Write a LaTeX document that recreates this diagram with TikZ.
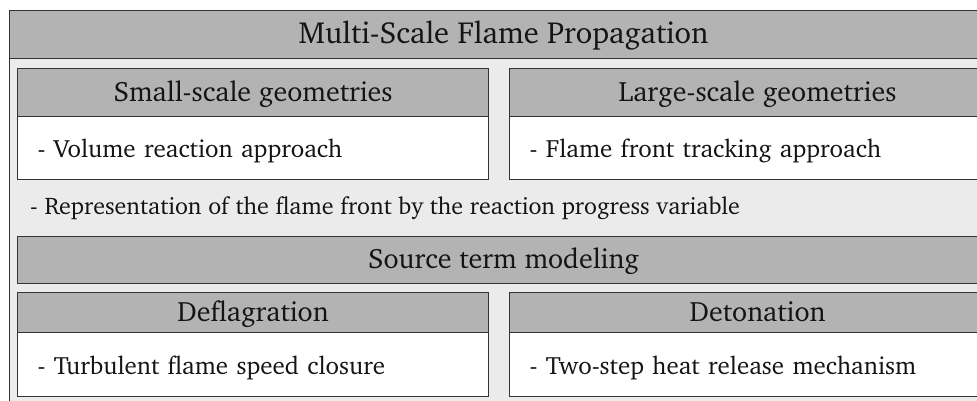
\documentclass[tikz,border=0pt]{standalone}
\usepackage[T1]{fontenc}
\usepackage{charter}
\definecolor{hdrgray}{HTML}{B3B3B3}
\definecolor{panelgray}{HTML}{EBEBEB}
\definecolor{edge}{HTML}{333333}
\definecolor{ink}{HTML}{141414}
\begin{document}
\begin{tikzpicture}[x=1pt,y=-1pt,
  frame/.style={draw=edge, line width=1.2pt, inner sep=0pt, anchor=north west},
  hdr/.style={frame, fill=hdrgray, text=ink, font=\fontsize{28}{32}\selectfont,
    text height=22pt, text depth=5pt},
  ttl/.style={hdr, font=\fontsize{30.5}{34}\selectfont, text height=23pt, text depth=6pt},
  body/.style={frame, fill=white, text=ink, font=\fontsize{25}{29}\selectfont,
    align=left, inner xsep=20pt, text height=20pt, text depth=1pt},
  plain/.style={text=ink, font=\fontsize{24}{28}\selectfont, anchor=base west, inner sep=0pt}]
\clip (0,0) rectangle (977,401);
\fill[white] (0,0) rectangle (977,401);
% outer panel and title bar
\node[frame, fill=panelgray, minimum width=988pt, minimum height=420pt] (panel) at (9,10) {};
\node[ttl, minimum width=988pt, minimum height=48pt] (title) at (9,10) {Multi-Scale Flame Propagation};
% geometry scale boxes
\node[hdr, minimum width=471pt, minimum height=48pt] (small) at (17,68) {Small-scale geometries};
\node[body, minimum width=471pt, minimum height=63pt, text width=431pt] (smallb) at (17,116) {- Volume reaction approach};
\node[hdr, minimum width=496pt, minimum height=48pt] (large) at (509,68) {Large-scale geometries};
\node[body, minimum width=496pt, minimum height=63pt, text width=456pt] (largeb) at (509,116) {- Flame front tracking approach};
% shared note
\node[plain] (rep) at (30,214) {- Representation of the flame front by the reaction progress variable};
% source term modeling
\node[hdr, minimum width=972pt, minimum height=47pt] (src) at (17,236) {Source term modeling};
\node[hdr, minimum width=471pt, minimum height=40pt] (defl) at (17,292) {Deflagration};
\node[body, minimum width=471pt, minimum height=64pt, text width=431pt] (deflb) at (17,332) {- Turbulent flame speed closure};
\node[hdr, minimum width=496pt, minimum height=40pt] (deto) at (509,292) {Detonation};
\node[body, minimum width=496pt, minimum height=64pt, text width=456pt] (detob) at (509,332) {- Two-step heat release mechanism};
\end{tikzpicture}
\end{document}
